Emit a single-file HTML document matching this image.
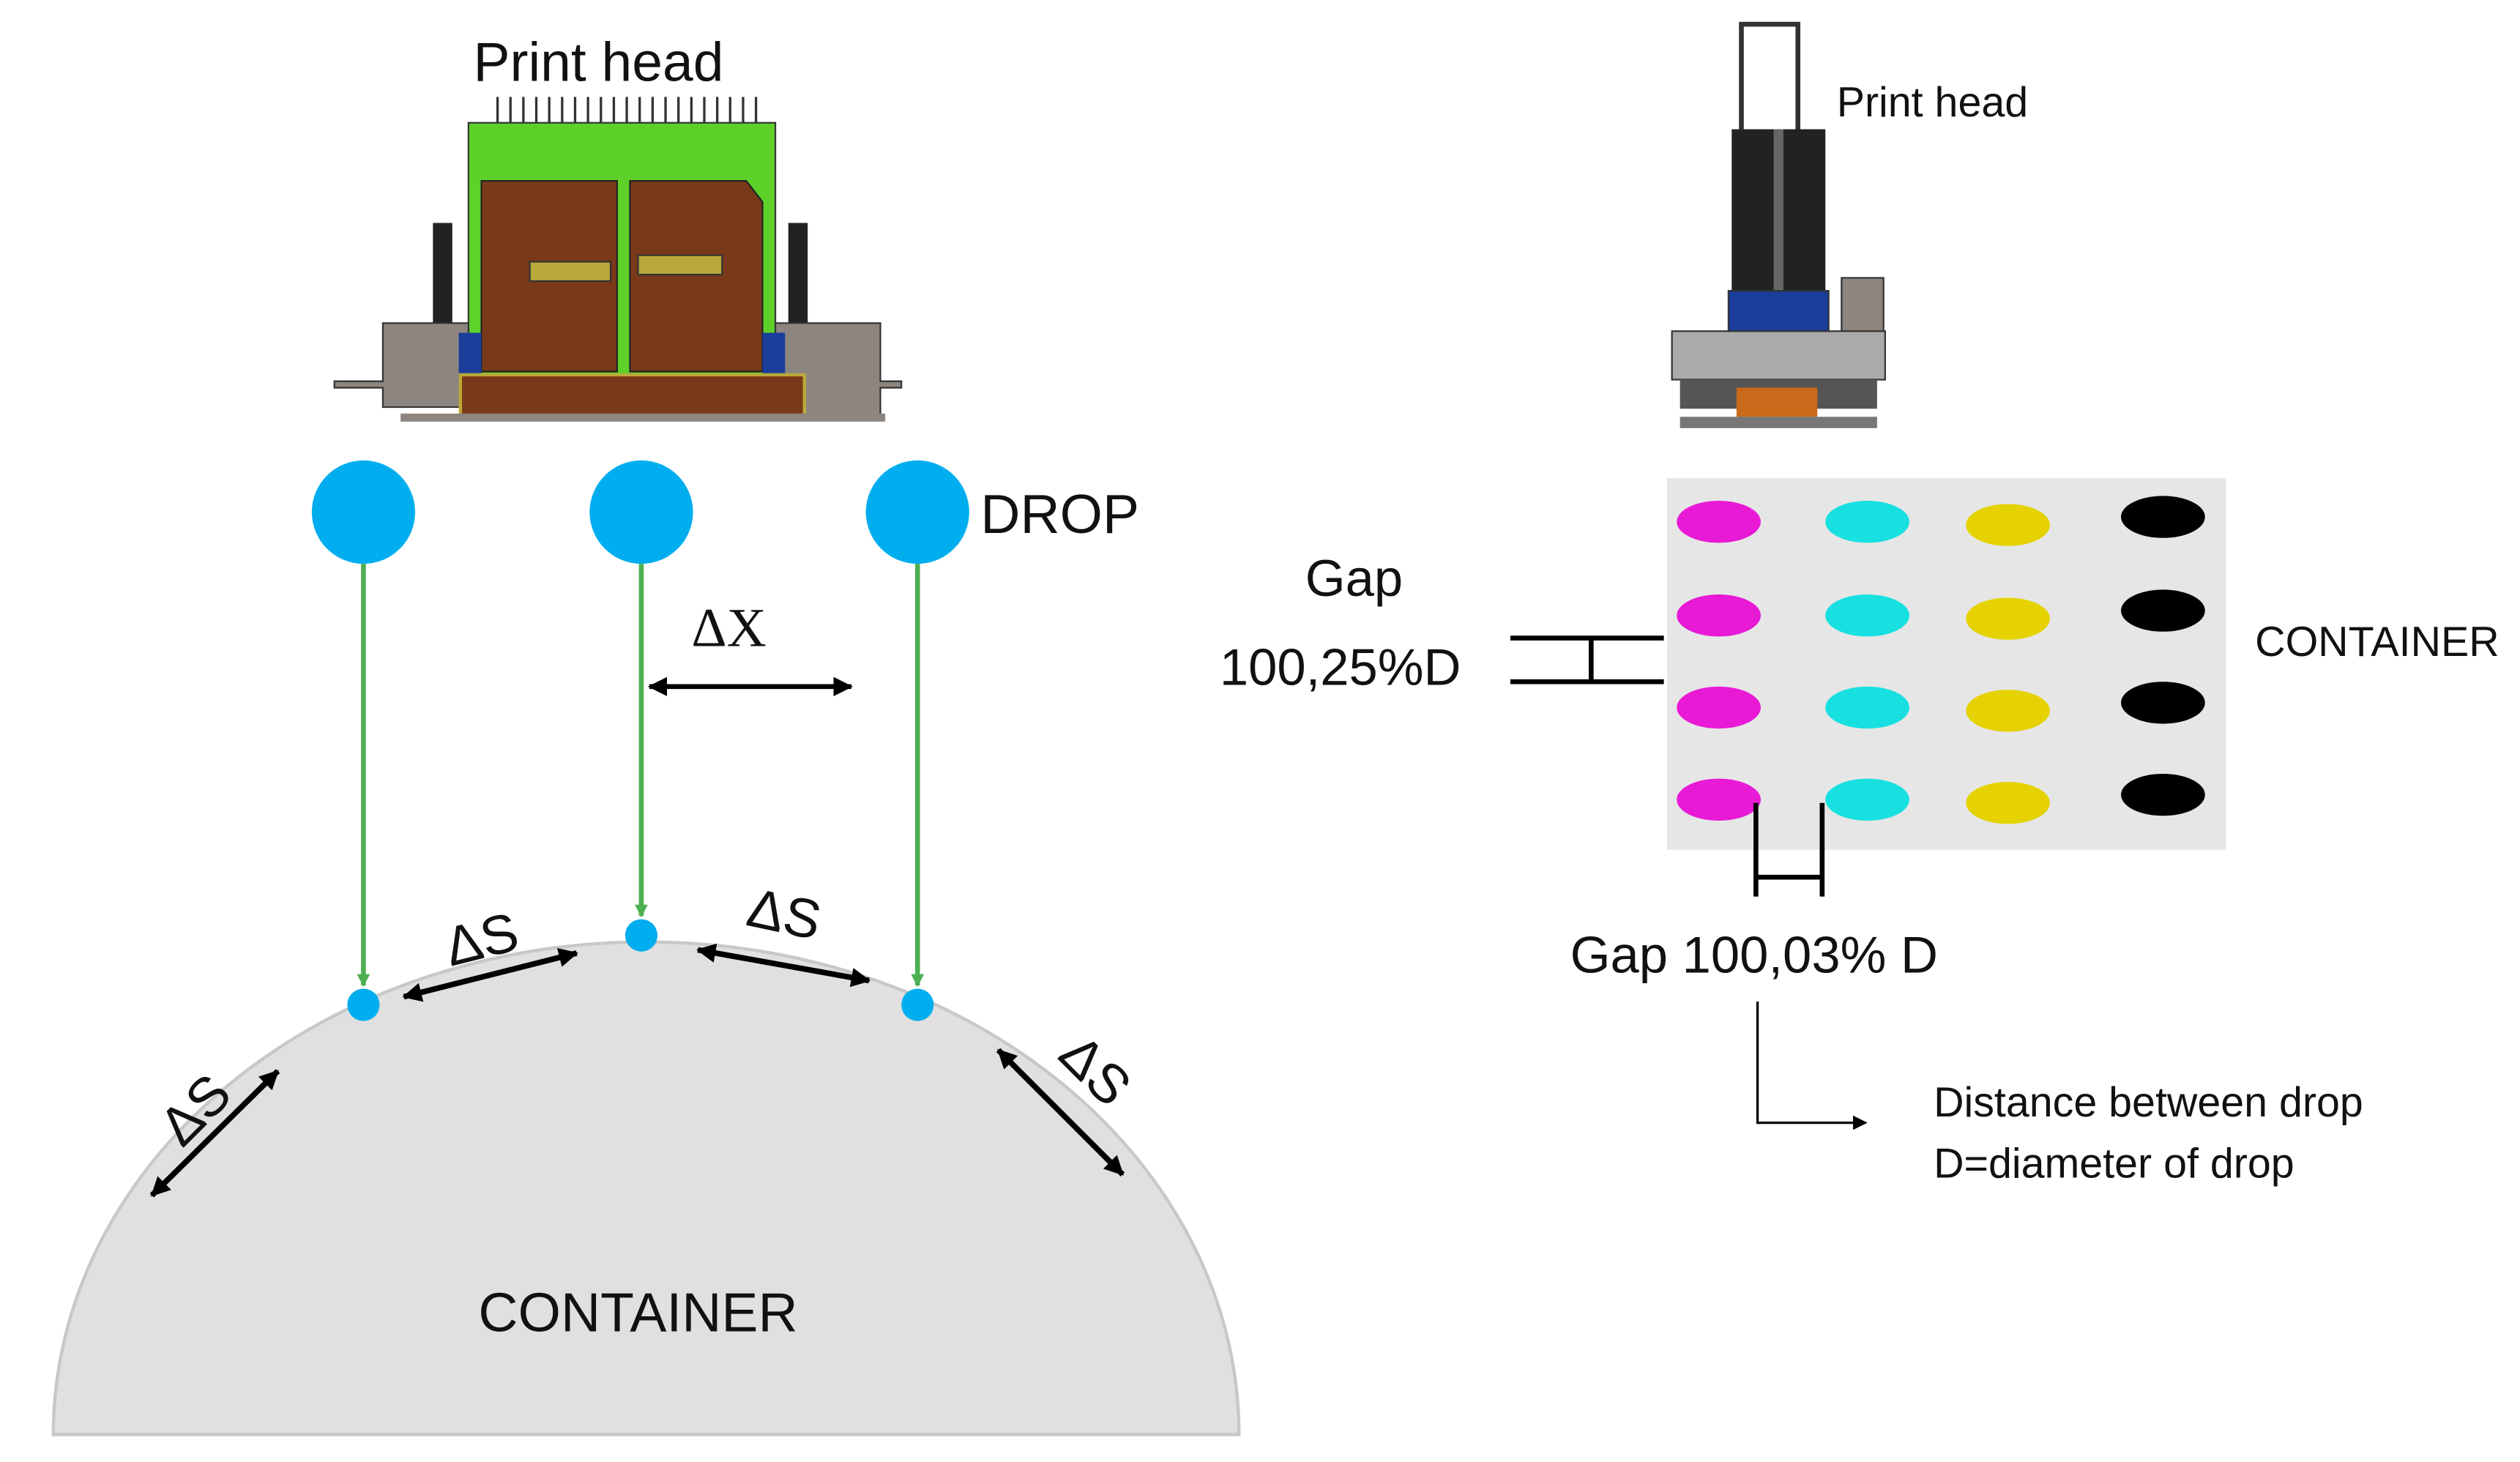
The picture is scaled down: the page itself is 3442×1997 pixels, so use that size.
<!DOCTYPE html>
<html><head><meta charset="utf-8"><style>
html,body{margin:0;padding:0;background:#fff;}
svg{display:block;}
text{font-family:"Liberation Sans",sans-serif;fill:#111;}
</style></head><body>
<svg width="3442" height="1997" viewBox="0 0 1560 905" preserveAspectRatio="none" xmlns="http://www.w3.org/2000/svg">
<defs>
<marker id="ag" markerWidth="8" markerHeight="8" refX="7" refY="4" orient="auto" markerUnits="userSpaceOnUse"><path d="M0,0 L8,4 L0,8 z" fill="#4caf50"/></marker>
<marker id="ak" markerWidth="12" markerHeight="12" refX="11" refY="6" orient="auto-start-reverse" markerUnits="userSpaceOnUse"><path d="M0,0 L12,6 L0,12 z" fill="#000"/></marker>
<marker id="as" markerWidth="9" markerHeight="9" refX="8" refY="4.5" orient="auto" markerUnits="userSpaceOnUse"><path d="M0,0 L9,4.5 L0,9 z" fill="#000"/></marker>
</defs>
<rect width="1560" height="905" fill="#fff"/>

<!-- left print head -->
<text x="293" y="50" font-size="34">Print head</text>
<g stroke="#333" stroke-width="1.5">
<line x1="308" y1="60" x2="308" y2="76"/><line x1="316" y1="60" x2="316" y2="76"/><line x1="324" y1="60" x2="324" y2="76"/><line x1="332" y1="60" x2="332" y2="76"/><line x1="340" y1="60" x2="340" y2="76"/><line x1="348" y1="60" x2="348" y2="76"/><line x1="356" y1="60" x2="356" y2="76"/><line x1="364" y1="60" x2="364" y2="76"/><line x1="372" y1="60" x2="372" y2="76"/><line x1="380" y1="60" x2="380" y2="76"/><line x1="388" y1="60" x2="388" y2="76"/><line x1="396" y1="60" x2="396" y2="76"/><line x1="404" y1="60" x2="404" y2="76"/><line x1="412" y1="60" x2="412" y2="76"/><line x1="420" y1="60" x2="420" y2="76"/><line x1="428" y1="60" x2="428" y2="76"/><line x1="436" y1="60" x2="436" y2="76"/><line x1="444" y1="60" x2="444" y2="76"/><line x1="452" y1="60" x2="452" y2="76"/><line x1="460" y1="60" x2="460" y2="76"/><line x1="468" y1="60" x2="468" y2="76"/>
</g>
<rect x="268" y="138" width="12" height="70" fill="#222"/>
<rect x="488" y="138" width="12" height="70" fill="#222"/>
<rect x="290" y="76" width="190" height="160" fill="#5ed02a" stroke="#333"/>
<path d="M298 112 H382 V230 H298 Z" fill="#7a3a1a" stroke="#222"/>
<path d="M390 112 H462 L472 125 V230 H390 Z" fill="#7a3a1a" stroke="#222"/>
<rect x="328" y="162" width="50" height="12" fill="#b9a93a" stroke="#333"/>
<rect x="395" y="158" width="52" height="12" fill="#b9a93a" stroke="#333"/>
<path d="M237 200 H290 V252 H237 V240 H207 V236 H237 Z" fill="#8c8580" stroke="#333"/>
<path d="M480 200 H545 V236 H558 V240 H545 V260 H480 Z" fill="#8c8580" stroke="#333"/>
<rect x="284" y="206" width="14" height="26" fill="#1a3d9a"/>
<rect x="472" y="206" width="14" height="26" fill="#1a3d9a"/>
<rect x="285" y="232" width="213" height="26" fill="#7a3a1a" stroke="#b9a93a" stroke-width="2"/>
<rect x="248" y="256" width="300" height="5" fill="#8c8580"/>

<!-- container left -->
<path d="M33 888 A367 305 0 0 1 767 888 Z" fill="#e0e0e0" stroke="#c8c8c8" stroke-width="2"/>
<text x="395" y="824" font-size="34" text-anchor="middle">CONTAINER</text>

<!-- drops -->
<g fill="#00aeef">
<circle cx="225" cy="317" r="32"/><circle cx="397" cy="317" r="32"/><circle cx="568" cy="317" r="32"/>
<circle cx="225" cy="622" r="10"/><circle cx="397" cy="579" r="10"/><circle cx="568" cy="622" r="10"/>
</g>
<text x="607" y="330" font-size="34">DROP</text>
<g stroke="#4caf50" stroke-width="3">
<line x1="225" y1="349" x2="225" y2="610" marker-end="url(#ag)"/>
<line x1="397" y1="349" x2="397" y2="567" marker-end="url(#ag)"/>
<line x1="568" y1="349" x2="568" y2="610" marker-end="url(#ag)"/>
</g>
<line x1="402" y1="425" x2="527" y2="425" stroke="#000" stroke-width="3" marker-start="url(#ak)" marker-end="url(#ak)"/>
<text x="428" y="400" font-size="34" font-family="Liberation Serif,serif" style="font-family:'Liberation Serif',serif">ΔX</text>

<g stroke="#000" stroke-width="3.5" fill="none">
<line x1="250" y1="617" x2="357" y2="590" marker-start="url(#ak)" marker-end="url(#ak)"/>
<line x1="432" y1="588" x2="538" y2="607" marker-start="url(#ak)" marker-end="url(#ak)"/>
<line x1="94" y1="740" x2="172" y2="663" marker-start="url(#ak)" marker-end="url(#ak)"/>
<line x1="618" y1="650" x2="695" y2="727" marker-start="url(#ak)" marker-end="url(#ak)"/>
</g>
<text x="275" y="593" font-size="34" transform="rotate(-14 298 580)">ΔS</text>
<text x="462" y="578" font-size="34" transform="rotate(12 488 570)">ΔS</text>
<text x="100" y="700" font-size="34" transform="rotate(-45 120 690)">ΔS</text>
<text x="640" y="672" font-size="34" transform="rotate(45 668 680)">ΔS</text>

<!-- right print head -->
<rect x="1078" y="15" width="35" height="70" fill="#fff" stroke="#333" stroke-width="3"/>
<rect x="1072" y="80" width="58" height="100" fill="#222"/>
<rect x="1098" y="80" width="6" height="100" fill="#666"/>
<rect x="1070" y="180" width="62" height="30" fill="#1a3d9a" stroke="#333"/>
<rect x="1140" y="172" width="26" height="40" fill="#8c8580" stroke="#333"/>
<rect x="1035" y="205" width="132" height="30" fill="#aaa" stroke="#333"/>
<rect x="1040" y="235" width="122" height="18" fill="#555"/>
<rect x="1075" y="240" width="50" height="18" fill="#c86a1a"/>
<rect x="1040" y="258" width="122" height="7" fill="#777"/>
<text x="1137" y="72" font-size="26">Print head</text>

<!-- right container -->
<rect x="1032" y="296" width="346" height="230" fill="#e6e6e6"/>
<g>
<ellipse cx="1064" cy="323" rx="26" ry="13" fill="#e81ad6"/><ellipse cx="1156" cy="323" rx="26" ry="13" fill="#18e0e0"/><ellipse cx="1243" cy="325" rx="26" ry="13" fill="#e6d200"/><ellipse cx="1339" cy="320" rx="26" ry="13" fill="#000"/>
<ellipse cx="1064" cy="381" rx="26" ry="13" fill="#e81ad6"/><ellipse cx="1156" cy="381" rx="26" ry="13" fill="#18e0e0"/><ellipse cx="1243" cy="383" rx="26" ry="13" fill="#e6d200"/><ellipse cx="1339" cy="378" rx="26" ry="13" fill="#000"/>
<ellipse cx="1064" cy="438" rx="26" ry="13" fill="#e81ad6"/><ellipse cx="1156" cy="438" rx="26" ry="13" fill="#18e0e0"/><ellipse cx="1243" cy="440" rx="26" ry="13" fill="#e6d200"/><ellipse cx="1339" cy="435" rx="26" ry="13" fill="#000"/>
<ellipse cx="1064" cy="495" rx="26" ry="13" fill="#e81ad6"/><ellipse cx="1156" cy="495" rx="26" ry="13" fill="#18e0e0"/><ellipse cx="1243" cy="497" rx="26" ry="13" fill="#e6d200"/><ellipse cx="1339" cy="492" rx="26" ry="13" fill="#000"/>
</g>
<text x="1396" y="406" font-size="26">CONTAINER</text>

<text x="808" y="369" font-size="32">Gap</text>
<text x="755" y="424" font-size="32">100,25%D</text>
<g stroke="#000" stroke-width="3">
<line x1="935" y1="395" x2="1030" y2="395"/><line x1="935" y1="422" x2="1030" y2="422"/><line x1="985" y1="395" x2="985" y2="422"/>
<line x1="1087" y1="497" x2="1087" y2="555"/><line x1="1128" y1="497" x2="1128" y2="555"/><line x1="1087" y1="543" x2="1128" y2="543"/>
</g>
<text x="972" y="602" font-size="32">Gap 100,03% D</text>
<path d="M1088 620 V695 H1155" stroke="#000" stroke-width="1.5" fill="none" marker-end="url(#as)"/>
<text x="1197" y="691" font-size="26">Distance between drop</text>
<text x="1197" y="729" font-size="26">D=diameter of drop</text>
</svg>
</body></html>
